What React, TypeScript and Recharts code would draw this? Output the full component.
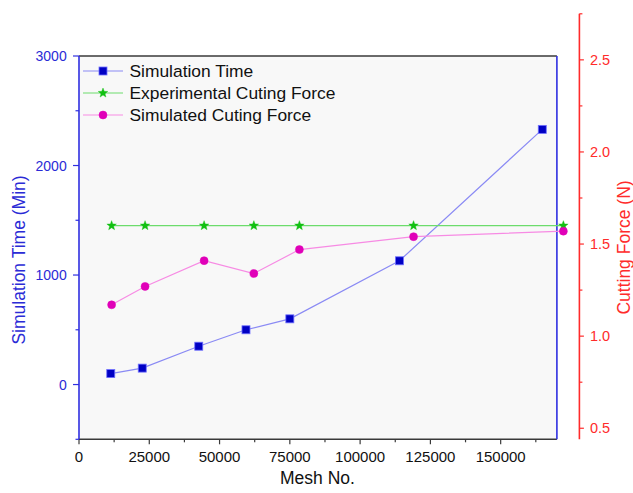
import React from 'react';
import { ComposedChart, Line, XAxis, YAxis, CartesianGrid, Legend } from 'recharts';

// ---- data ----
const meshTime = [11300, 22500, 42600, 59400, 75000, 114000, 164800];
const simTime = [100, 150, 350, 500, 600, 1130, 2330];

const meshForce = [11600, 23500, 44500, 62200, 78400, 119000, 172300];
const expForce = [1.6, 1.6, 1.6, 1.6, 1.6, 1.6, 1.6];
const simForce = [1.17, 1.27, 1.41, 1.34, 1.47, 1.54, 1.57];

const xMajor = [0, 25000, 50000, 75000, 100000, 125000, 150000];
const xMinor = [12500, 37500, 62500, 87500, 112500, 137500, 162500];
const yLeftMajor = [0, 1000, 2000, 3000];
const yLeftMinor = [-500, 500, 1500, 2500];
const yRightMajor = [0.5, 1.0, 1.5, 2.0, 2.5];
const yRightMinor = [0.75, 1.25, 1.75, 2.25, 2.75];

const legendNames = ['Simulation Time', 'Experimental Cuting Force', 'Simulated Cuting Force'];

// ---- styling ----
const FONT = '"Liberation Sans", Arial, sans-serif';
const BLUE_AXIS = '#2f2fe0';
const BLUE_TEXT = '#2b2bd6';
const RED = '#ff2b2b';
const FRAME = '#3a3a3a';
const C_TIME_LINE = '#8a8af4';
const C_TIME_DOT = '#0000c4';
const C_TIME_DOT_EDGE = '#6f6fff';
const C_EXP_LINE = '#6cdc6c';
const C_EXP_DOT = '#12c012';
const C_SIM_LINE = '#f78be4';
const C_SIM_DOT = '#e000b8';

const timeData = meshTime.map((m, i) => ({ mesh: m, time: simTime[i] }));
const forceData = meshForce.map((m, i) => ({ mesh: m, exp: expForce[i], sim: simForce[i] }));

const allX = [...xMajor, ...xMinor].sort((a, b) => a - b);
const allYL = [...yLeftMajor, ...yLeftMinor].sort((a, b) => a - b);
const allYR = [...yRightMajor, ...yRightMinor].sort((a, b) => a - b);

function starPath(cx: number, cy: number, R: number, r: number) {
  let d = '';
  for (let i = 0; i < 10; i++) {
    const ang = -Math.PI / 2 + (i * Math.PI) / 5;
    const rad = i % 2 === 0 ? R : r;
    const px = cx + rad * Math.cos(ang);
    const py = cy + rad * Math.sin(ang);
    d += (i === 0 ? 'M' : 'L') + px.toFixed(2) + ',' + py.toFixed(2);
  }
  return d + 'Z';
}

const SquareDot = (p: any) => {
  if (p.cx == null || p.cy == null) return null;
  return <rect x={p.cx - 4} y={p.cy - 4} width={8} height={8} fill={C_TIME_DOT} stroke={C_TIME_DOT_EDGE} strokeWidth={0.8} />;
};
const StarDot = (p: any) => {
  if (p.cx == null || p.cy == null) return null;
  return <path d={starPath(p.cx, p.cy, 5, 2.1)} fill={C_EXP_DOT} stroke={C_EXP_DOT} strokeWidth={0.4} />;
};
const CircleDot = (p: any) => {
  if (p.cx == null || p.cy == null) return null;
  return <circle cx={p.cx} cy={p.cy} r={4} fill={C_SIM_DOT} stroke={C_SIM_DOT} strokeWidth={0.5} />;
};

// ---- ticks ----
const BottomTick = (props: any) => {
  const { x, y, payload } = props;
  const major = xMajor.includes(payload.value);
  return (
    <g>
      <line x1={x} x2={x} y1={y} y2={y + (major ? 5 : 3)} stroke={FRAME} strokeWidth={1.2} />
      {major && (
        <text x={x} y={y + 22.5} textAnchor="middle" fontSize={15} fill="#111" fontFamily={FONT}>
          {payload.value}
        </text>
      )}
    </g>
  );
};
const TopTick = (props: any) => {
  const { x, y, payload } = props;
  const major = xMajor.includes(payload.value);
  return <line x1={x} x2={x} y1={y} y2={y + (major ? 5.5 : 3)} stroke={FRAME} strokeWidth={1.2} />;
};
const LeftTick = (props: any) => {
  const { x, y, payload } = props;
  const major = yLeftMajor.includes(payload.value);
  return (
    <g>
      <line x1={x - (major ? 6 : 3.5)} x2={x} y1={y} y2={y} stroke={BLUE_AXIS} strokeWidth={1.2} />
      {major && (
        <text x={x - 12.3} y={y} dy="0.36em" textAnchor="end" fontSize={14} fill={BLUE_TEXT} fontFamily={FONT}>
          {payload.value}
        </text>
      )}
    </g>
  );
};
const RightMirrorTick = (props: any) => {
  const { x, y } = props;
  return <line x1={x - 5} x2={x} y1={y} y2={y} stroke={BLUE_AXIS} strokeWidth={1.2} />;
};
const RedTick = (props: any) => {
  const { x, y, payload } = props;
  const major = yRightMajor.includes(payload.value);
  return (
    <g>
      <line x1={x} x2={x + (major ? 4.5 : 3)} y1={y} y2={y} stroke={RED} strokeWidth={1.2} />
      {major && (
        <text x={x + 10.6} y={y} dy="0.36em" textAnchor="start" fontSize={14.5} fill={RED} fontFamily={FONT}>
          {Number(payload.value).toFixed(1)}
        </text>
      )}
    </g>
  );
};

const LegendBox = () => {
  const colors = [
    [C_TIME_LINE, 'square'],
    [C_EXP_LINE, 'star'],
    [C_SIM_LINE, 'circle'],
  ];
  return (
    <svg width={290} height={70} style={{ overflow: 'visible' }}>
      {legendNames.map((name, i) => {
        const cy = 11 + i * 22;
        const [lc, kind] = colors[i];
        return (
          <g key={name}>
            <line x1={3} x2={43} y1={cy} y2={cy} stroke={lc} strokeWidth={1.2} />
            {kind === 'square' && <SquareDot cx={23} cy={cy} />}
            {kind === 'star' && <StarDot cx={23} cy={cy} />}
            {kind === 'circle' && <CircleDot cx={23} cy={cy} />}
            <text x={49.5} y={cy} dy="0.36em" fontSize={17.4} fill="#111" fontFamily={FONT}>
              {name}
            </text>
          </g>
        );
      })}
    </svg>
  );
};

const W = 633;
const H = 493;

export default function App() {
  return (
    <div style={{ position: 'absolute', left: 0, top: 0, width: W, height: H, background: '#fff' }}>
      <div style={{ position: 'absolute', left: 0, top: 0 }}>
        <ComposedChart width={W} height={H} margin={{ top: 55, right: 75.1, bottom: 0, left: 0 }}>
          <CartesianGrid xAxisId="b" yAxisId="l" horizontal={false} vertical={false} fill="#f8f8f8" stroke="none" />
          <XAxis
            xAxisId="b"
            type="number"
            dataKey="mesh"
            domain={[0, 170000]}
            ticks={allX}
            interval={0}
            tickLine={false}
            tickSize={0}
            tickMargin={0}
            tick={<BottomTick />}
            axisLine={{ stroke: FRAME, strokeWidth: 1.6 }}
            height={53.7}
            label={() => (
              <text x={317.5} y={484} textAnchor="middle" fontSize={17.5} fill="#111" fontFamily={FONT}>
                Mesh No.
              </text>
            )}
          />
          <XAxis
            xAxisId="t"
            orientation="top"
            type="number"
            dataKey="mesh"
            domain={[0, 170000]}
            ticks={allX}
            interval={0}
            tickLine={false}
            tickSize={0}
            tickMargin={0}
            tick={<TopTick />}
            axisLine={{ stroke: FRAME, strokeWidth: 1.4 }}
            height={1}
          />
          <YAxis
            yAxisId="l"
            type="number"
            domain={[-500, 3000]}
            ticks={allYL}
            interval={0}
            tickLine={false}
            tickSize={0}
            tickMargin={0}
            tick={<LeftTick />}
            axisLine={{ stroke: BLUE_AXIS, strokeWidth: 1.6 }}
            width={79}
            label={() => (
              <text
                x={18.5}
                y={260}
                transform="rotate(-90, 18.5, 260)"
                textAnchor="middle"
                dominantBaseline="central"
                fontSize={17.5}
                fill={BLUE_TEXT}
                fontFamily={FONT}
              >
                Simulation Time (Min)
              </text>
            )}
          />
          <YAxis
            yAxisId="r"
            orientation="right"
            type="number"
            domain={[-500, 3000]}
            ticks={allYL}
            interval={0}
            tickLine={false}
            tickSize={0}
            tickMargin={0}
            tick={<RightMirrorTick />}
            axisLine={{ stroke: BLUE_AXIS, strokeWidth: 1.6 }}
            width={1}
          />
          <Line
            xAxisId="b"
            yAxisId="l"
            data={timeData}
            dataKey="time"
            name={legendNames[0]}
            stroke={C_TIME_LINE}
            strokeWidth={1.2}
            dot={<SquareDot />}
            activeDot={false}
            isAnimationActive={false}
          />
          <Legend
            layout="horizontal"
            verticalAlign="middle"
            align="center"
            content={() => <LegendBox />}
            wrapperStyle={{ left: 80, top: 60, width: 290, height: 70 }}
          />
        </ComposedChart>
      </div>
      <div style={{ position: 'absolute', left: 0, top: 0, pointerEvents: 'none' }}>
        <ComposedChart width={W} height={H} data={forceData} margin={{ top: 13.8, right: 0, bottom: 53.7, left: 79 }}>
          <XAxis type="number" dataKey="mesh" domain={[0, 178000]} hide />
          <YAxis
            yAxisId="red"
            orientation="right"
            type="number"
            domain={[0.44, 2.75]}
            ticks={allYR}
            interval={0}
            tickLine={false}
            tickSize={0}
            tickMargin={0}
            tick={<RedTick />}
            axisLine={{ stroke: RED, strokeWidth: 1.6 }}
            width={53.6}
            label={() => (
              <text
                x={624.2}
                y={247.5}
                transform="rotate(-90, 624.2, 247.5)"
                textAnchor="middle"
                dominantBaseline="central"
                fontSize={17.5}
                fill={RED}
                fontFamily={FONT}
              >
                Cutting Force (N)
              </text>
            )}
          />
          <Line
            yAxisId="red"
            dataKey="exp"
            name={legendNames[1]}
            stroke={C_EXP_LINE}
            strokeWidth={1.2}
            dot={<StarDot />}
            activeDot={false}
            isAnimationActive={false}
          />
          <Line
            yAxisId="red"
            dataKey="sim"
            name={legendNames[2]}
            stroke={C_SIM_LINE}
            strokeWidth={1.2}
            dot={<CircleDot />}
            activeDot={false}
            isAnimationActive={false}
          />
        </ComposedChart>
      </div>
    </div>
  );
}
